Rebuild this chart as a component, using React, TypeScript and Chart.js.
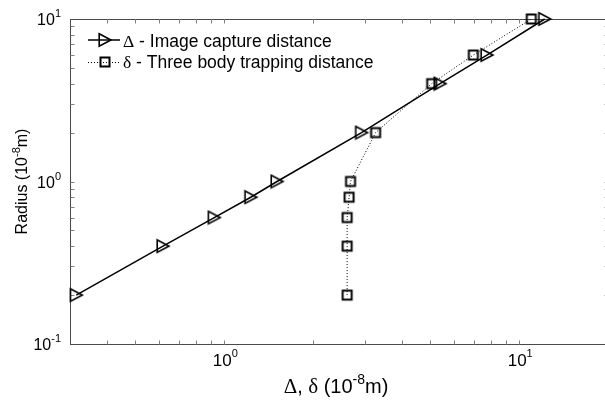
import { useEffect, useRef } from "react";
import { Chart, registerables } from "chart.js";

Chart.register(...registerables);

// Particle radius (10^-8 m)
const radius = [0.2, 0.4, 0.6, 0.8, 1, 2, 4, 6, 10];
// Δ – image capture distance (10^-8 m)
const captureDistance = [0.315, 0.62, 0.925, 1.23, 1.51, 2.92, 5.39, 7.77, 12.2];
// δ – three body trapping distance (10^-8 m)
const trappingDistance = [2.61, 2.61, 2.61, 2.65, 2.68, 3.26, 5.05, 6.99, 10.99];

// Decade exponents that carry a "10^n" label
const xLabelExponents = [0, 1];
const yLabelExponents = [-1, 0, 1];
// Tick mark positions on the log axes
const xTickValues = [0.4, 0.5, 0.6, 0.7, 0.8, 0.9, 1, 2, 3, 4, 5, 6, 7, 8, 9, 10];
const yTickValues = [0.2, 0.3, 0.4, 0.5, 0.6, 0.7, 0.8, 0.9, 1, 2, 3, 4, 5, 6, 7, 8, 9];

const SANS = '"Liberation Sans", Arial, Helvetica, sans-serif';
const SERIF = '"Liberation Serif", "Times New Roman", serif';

type Run = { text: string; font: string; dy?: number };

function runsWidth(ctx: CanvasRenderingContext2D, runs: Run[]) {
  let w = 0;
  for (const r of runs) {
    ctx.font = r.font;
    w += ctx.measureText(r.text).width;
  }
  return w;
}

function drawRuns(ctx: CanvasRenderingContext2D, runs: Run[], x: number, y: number) {
  let cx = x;
  for (const r of runs) {
    ctx.font = r.font;
    ctx.fillText(r.text, cx, y + (r.dy || 0));
    cx += ctx.measureText(r.text).width;
  }
}

function makeTriangle(): HTMLCanvasElement {
  const c = document.createElement("canvas");
  c.width = 16;
  c.height = 16;
  const g = c.getContext("2d")!;
  g.strokeStyle = "#000";
  g.lineWidth = 1.6;
  g.lineJoin = "miter";
  g.beginPath();
  g.moveTo(2.2, 1.8);
  g.lineTo(14, 8);
  g.lineTo(2.2, 14.2);
  g.closePath();
  g.stroke();
  return c;
}

function makeSquare(): HTMLCanvasElement {
  const c = document.createElement("canvas");
  c.width = 16;
  c.height = 16;
  const g = c.getContext("2d")!;
  g.strokeStyle = "#000";
  g.lineWidth = 2;
  g.strokeRect(3.5, 3.5, 9, 9);
  return c;
}

const axesPlugin = {
  id: "matlabAxes",
  beforeDatasetsDraw(chart: any) {
    const { ctx, chartArea: a, scales } = chart;
    const xs = scales.x;
    const ys = scales.y;
    const L = Math.round(a.left) + 0.5;
    const R = Math.round(a.right) + 0.5;
    const T = Math.round(a.top) + 0.5;
    const B = Math.round(a.bottom) + 0.5;
    ctx.save();
    ctx.lineWidth = 1;
    ctx.strokeStyle = "#4a4a4a";
    ctx.strokeRect(L, T, R - L, B - T);
    ctx.strokeStyle = "#808080";
    ctx.beginPath();
    for (const v of xTickValues) {
      const px = Math.round(xs.getPixelForValue(v)) + 0.5;
      ctx.moveTo(px, B);
      ctx.lineTo(px, B - 4);
      ctx.moveTo(px, T);
      ctx.lineTo(px, T + 4);
    }
    for (const v of yTickValues) {
      const py = Math.round(ys.getPixelForValue(v)) + 0.5;
      ctx.moveTo(L, py);
      ctx.lineTo(L + 4, py);
      ctx.moveTo(R, py);
      ctx.lineTo(R - 4, py);
    }
    ctx.stroke();
    ctx.restore();
  },
  afterDraw(chart: any) {
    const { ctx, chartArea: a, scales } = chart;
    const xs = scales.x;
    const ys = scales.y;
    ctx.save();
    ctx.fillStyle = "#000";
    ctx.textBaseline = "alphabetic";
    ctx.textAlign = "left";

    // x tick labels
    for (const e of xLabelExponents) {
      const px = xs.getPixelForValue(Math.pow(10, e));
      const runs: Run[] = [
        { text: "10", font: `17px ${SANS}` },
        { text: String(e), font: `11px ${SANS}`, dy: -9 },
      ];
      const w = runsWidth(ctx, runs);
      drawRuns(ctx, runs, px - w / 2 + 1, a.bottom + 22);
    }

    // y tick labels
    for (const e of yLabelExponents) {
      const py = ys.getPixelForValue(Math.pow(10, e));
      const runs: Run[] = [
        { text: "10", font: `16px ${SANS}` },
        { text: String(e), font: `11px ${SANS}`, dy: -8 },
      ];
      const w = runsWidth(ctx, runs);
      drawRuns(ctx, runs, a.left - 9 - w, py + 6);
    }

    // x axis title
    const xTitle: Run[] = [
      { text: "\u0394", font: `21px ${SERIF}` },
      { text: ", ", font: `20px ${SANS}` },
      { text: "\u03b4", font: `21px ${SERIF}` },
      { text: " (10", font: `20px ${SANS}` },
      { text: "-8", font: `14px ${SANS}`, dy: -9 },
      { text: "m)", font: `20px ${SANS}` },
    ];
    const xw = runsWidth(ctx, xTitle);
    drawRuns(ctx, xTitle, 336 - xw / 2, 393);

    // y axis title
    const yTitle: Run[] = [
      { text: "Radius (10", font: `16px ${SANS}` },
      { text: "-8", font: `11px ${SANS}`, dy: -7 },
      { text: "m)", font: `16px ${SANS}` },
    ];
    const yw = runsWidth(ctx, yTitle);
    ctx.save();
    ctx.translate(27, (a.top + a.bottom) / 2);
    ctx.rotate(-Math.PI / 2);
    drawRuns(ctx, yTitle, -yw / 2, 0);
    ctx.restore();

    ctx.restore();
  },
};

function makeLegendPlugin(tri: HTMLCanvasElement, sq: HTMLCanvasElement) {
  return {
    id: "inlineLegend",
    afterDraw(chart: any) {
      const { ctx } = chart;
      ctx.save();
      ctx.fillStyle = "#000";
      ctx.textBaseline = "alphabetic";
      ctx.textAlign = "left";
      // row 1: solid line with triangle marker
      ctx.strokeStyle = "#000";
      ctx.lineWidth = 1.5;
      ctx.beginPath();
      ctx.moveTo(88, 40);
      ctx.lineTo(120, 40);
      ctx.stroke();
      ctx.drawImage(tri, 105 - 8, 40 - 8);
      drawRuns(
        ctx,
        [
          { text: "\u0394", font: `17.5px ${SERIF}` },
          { text: " - Image capture distance", font: `17.5px ${SANS}` },
        ],
        123,
        46.5
      );
      // row 2: dotted line with square marker
      ctx.lineWidth = 1;
      ctx.setLineDash([1, 2]);
      ctx.beginPath();
      ctx.moveTo(88, 62.5);
      ctx.lineTo(120, 62.5);
      ctx.stroke();
      ctx.setLineDash([]);
      ctx.drawImage(sq, 105 - 8, 62 - 8);
      drawRuns(
        ctx,
        [
          { text: "\u03b4", font: `17.5px ${SERIF}` },
          { text: " - Three body trapping distance", font: `17.5px ${SANS}` },
        ],
        123,
        68
      );
      ctx.restore();
    },
  };
}

export default function App() {
  const ref = useRef<HTMLCanvasElement>(null);

  useEffect(() => {
    const canvas = ref.current;
    if (!canvas) return;
    const tri = makeTriangle();
    const sq = makeSquare();
    const chart = new Chart(canvas, {
      type: "scatter",
      data: {
        datasets: [
          {
            label: "\u0394 - Image capture distance",
            data: radius.map((r, i) => ({ x: captureDistance[i], y: r })),
            showLine: true,
            borderColor: "#000",
            borderWidth: 1.5,
            pointStyle: tri as any,
            pointRadius: 8,
            clip: false as any,
          },
          {
            label: "\u03b4 - Three body trapping distance",
            data: radius.map((r, i) => ({ x: trappingDistance[i], y: r })),
            showLine: true,
            borderColor: "#000",
            borderWidth: 1,
            borderDash: [1, 2],
            pointStyle: sq as any,
            pointRadius: 8,
            clip: false as any,
          },
        ],
      },
      options: {
        responsive: false,
        animation: false,
        events: [],
        layout: { autoPadding: false, padding: { left: 70, top: 19, right: 2, bottom: 57 } },
        scales: {
          x: { type: "logarithmic", min: 0.3, max: 20, display: false },
          y: { type: "logarithmic", min: 0.1, max: 10, display: false },
        },
        plugins: {
          legend: { display: false },
          tooltip: { enabled: false },
        },
      },
      plugins: [axesPlugin, makeLegendPlugin(tri, sq)],
    });
    return () => chart.destroy();
  }, []);

  return (
    <div
      style={{
        position: "fixed",
        left: 0,
        top: 0,
        width: 605,
        height: 401,
        overflow: "hidden",
        background: "#fff",
      }}
    >
      <canvas ref={ref} width={610} height={401} style={{ display: "block", width: 610, height: 401 }} />
    </div>
  );
}
